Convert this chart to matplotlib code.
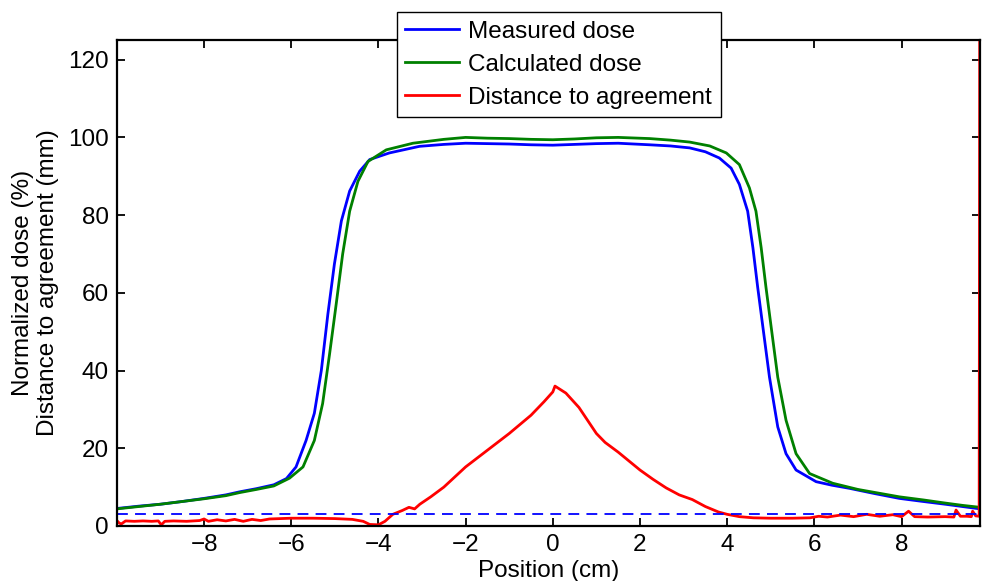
import matplotlib
matplotlib.use('Agg')
import matplotlib.pyplot as plt
import numpy as np

plt.rcParams['font.family'] = ['Liberation Sans', 'DejaVu Sans']
plt.rcParams['axes.unicode_minus'] = True

# Measured dose profile (blue)
x_meas = [-10.0, -9.5, -9.0, -8.5, -8.0, -7.5, -7.18, -6.8, -6.4, -6.11, -5.89, -5.66, -5.47,
          -5.31, -5.16, -5.01, -4.85, -4.66, -4.43, -4.2, -3.75, -3.06, -2.5, -2.0, -1.5, -1.0,
          -0.5, 0.0, 0.5, 1.0, 1.5, 2.22, 2.7, 3.14, 3.5, 3.82, 4.09, 4.28, 4.47, 4.59, 4.7,
          4.82, 4.97, 5.16, 5.35, 5.58, 6.04, 6.4, 6.8, 7.4, 7.95, 8.5, 9.0, 9.4, 9.8]
d_meas = [4.5, 5.1, 5.6, 6.3, 7.1, 8.0, 8.8, 9.6, 10.6, 12.2, 15.2, 22.0, 29.0,
          40.0, 54.5, 67.4, 78.5, 86.2, 91.3, 94.3, 96.0, 97.7, 98.2, 98.5, 98.4, 98.3,
          98.1, 98.0, 98.2, 98.4, 98.5, 98.1, 97.8, 97.3, 96.3, 94.7, 92.1, 87.9, 81.0, 71.6, 61.4,
          51.1, 38.3, 25.5, 18.6, 14.4, 11.4, 10.5, 9.7, 8.3, 7.1, 6.3, 5.6, 5.0, 4.4]

# Calculated dose profile (green)
x_calc = [-10.0, -9.5, -9.0, -8.5, -8.0, -7.5, -7.18, -6.8, -6.4, -6.04, -5.73, -5.47, -5.28,
          -5.12, -4.97, -4.82, -4.66, -4.47, -4.24, -3.82, -3.21, -2.5, -2.0, -1.5, -1.0, -0.5,
          0.0, 0.5, 1.0, 1.5, 2.22, 2.7, 3.14, 3.6, 3.98, 4.28, 4.51, 4.66, 4.78, 4.89, 5.01,
          5.16, 5.35, 5.58, 5.89, 6.42, 7.0, 7.5, 7.95, 8.5, 9.0, 9.4, 9.8]
d_calc = [4.4, 5.0, 5.6, 6.3, 7.0, 7.8, 8.6, 9.4, 10.3, 12.3, 15.2, 22.0, 31.5,
          44.3, 57.0, 70.0, 81.0, 88.7, 93.8, 96.8, 98.5, 99.5, 100.0, 99.8, 99.7, 99.5,
          99.4, 99.6, 99.9, 100.0, 99.7, 99.3, 98.8, 97.8, 96.0, 93.0, 87.0, 81.0, 71.6, 61.4, 51.1,
          38.3, 27.2, 18.6, 13.5, 11.0, 9.4, 8.4, 7.5, 6.7, 5.9, 5.3, 4.8]

# Distance to agreement (red)
x_dta = [-10.0, -9.95, -9.9, -9.8, -9.6, -9.4, -9.2, -9.05, -8.98, -8.9, -8.7, -8.4, -8.1,
         -8.0, -7.9, -7.7, -7.5, -7.3, -7.1, -6.9, -6.7, -6.5, -6.0, -5.5, -5.0, -4.6,
         -4.35, -4.2, -4.0, -3.85, -3.67, -3.45, -3.3, -3.17, -3.05, -2.8, -2.5, -2.0,
         -1.5, -1.0, -0.5, -0.2, 0.0, 0.05, 0.3, 0.6, 1.0, 1.2, 1.5, 2.0, 2.3, 2.6, 2.9,
         3.2, 3.5, 3.8, 4.0, 4.28, 4.6, 5.0, 5.5, 5.9, 6.1, 6.3, 6.6, 6.9, 7.2, 7.5, 7.8,
         8.0, 8.16, 8.3, 8.6, 9.0, 9.2, 9.25, 9.35, 9.5, 9.6, 9.63, 9.7, 9.78, 9.8]
dta = [1.4, 0.8, 0.5, 1.3, 1.2, 1.3, 1.2, 1.3, 0.3, 1.2, 1.3, 1.2, 1.4,
       1.8, 1.2, 1.6, 1.3, 1.7, 1.2, 1.7, 1.4, 1.8, 2.0, 2.0, 1.9, 1.7,
       1.2, 0.4, 0.3, 1.2, 3.0, 4.0, 4.8, 4.4, 5.6, 7.5, 10.0, 15.2,
       19.5, 23.8, 28.5, 32.0, 34.5, 36.0, 34.2, 30.5, 23.8, 21.5, 19.0, 14.4, 12.0, 9.8, 8.0,
       6.8, 5.0, 3.6, 3.0, 2.4, 2.1, 2.0, 2.0, 2.1, 2.5, 2.3, 2.8, 2.4, 3.0, 2.5, 2.9,
       2.4, 3.8, 2.4, 2.3, 2.4, 2.3, 4.1, 2.5, 2.5, 2.4, 3.8, 2.6, 2.5, 200.0]

dta_limit = 3.0

fig = plt.figure(figsize=(9.82, 5.81), dpi=100)
ax = fig.add_axes([0.119, 0.0947, 0.879, 0.836])

ax.plot(x_meas, d_meas, color=(0, 0, 1), lw=2, label='Measured dose')
ax.plot(x_calc, d_calc, color=(0, 0.5, 0), lw=2, label='Calculated dose')
ax.plot(x_dta, dta, color=(1, 0, 0), lw=2, label='Distance to agreement')
ax.axhline(dta_limit, color=(0, 0, 1), lw=1.3, ls=(0, (6, 4)))

ax.set_xlim(-10, 9.8)
ax.set_ylim(0, 125)
ax.set_xticks([-8, -6, -4, -2, 0, 2, 4, 6, 8])
ax.set_yticks([0, 20, 40, 60, 80, 100, 120])
ax.tick_params(direction='in', length=6, width=1.3, top=True, right=True, labelsize=17.5, pad=6)
for s in ax.spines.values():
    s.set_linewidth(1.6)

ax.set_xlabel('Position (cm)', fontsize=17.5, labelpad=3)
ax.set_ylabel('Normalized dose (%)\nDistance to agreement (mm)', fontsize=17.5, labelpad=6,
              linespacing=1.2)

leg = ax.legend(loc='upper center', bbox_to_anchor=(0.569, 0.979), bbox_transform=fig.transFigure,
                fontsize=17.5, fancybox=False, framealpha=1, edgecolor='black',
                handlelength=2.2, handletextpad=0.4, labelspacing=0.45, borderpad=0.35,
                borderaxespad=0)
leg.get_frame().set_linewidth(1.0)
leg.set_zorder(5)

fig.savefig('out.png', dpi=100)
